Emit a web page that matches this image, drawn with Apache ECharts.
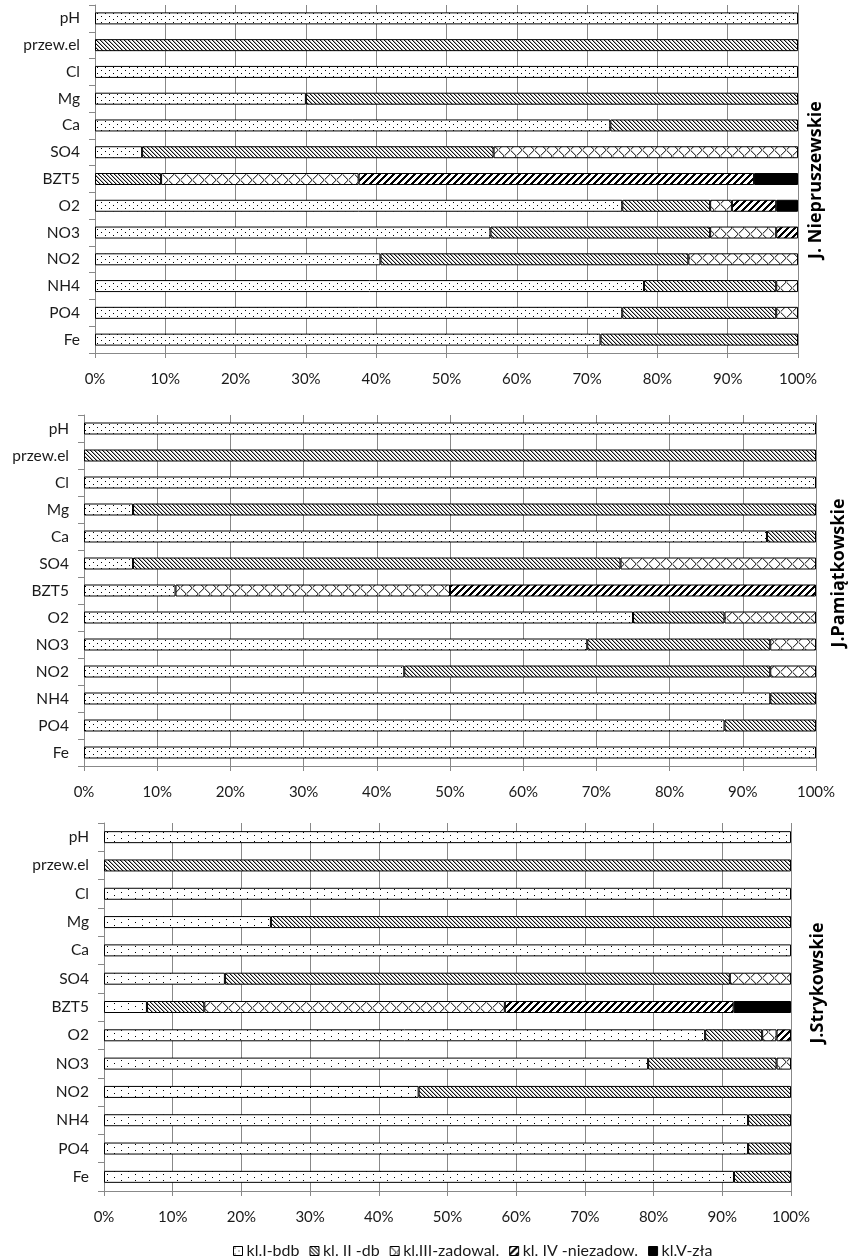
<!DOCTYPE html>
<html>
<head>
<meta charset="utf-8">
<script src="https://cdn.jsdelivr.net/npm/echarts@6/dist/echarts.min.js"></script>
<style>
    html, body { margin: 0; padding: 0; background: #fff; }
    #main { width: 848px; height: 1257px; }
</style>
</head>
<body>
<div id="main"></div>
<script>
// kategorie (od góry)
var categories = ['pH', 'przew.el', 'Cl', 'Mg', 'Ca', 'SO4', 'BZT5', 'O2', 'NO3', 'NO2', 'NH4', 'PO4', 'Fe'];
var classNames = ['kl.I-bdb', 'kl. II -db', 'kl.III-zadowal.', 'kl. IV -niezadow.', 'kl.V-zła'];

// J. Niepruszewskie
var niepKl1 = [100, 0, 100, 30, 73.3, 6.7, 0, 75, 56.25, 40.6, 78.1, 75, 71.9];
var niepKl2 = [0, 100, 0, 70, 26.7, 50, 9.4, 12.5, 31.25, 43.8, 18.8, 21.9, 28.1];
var niepKl3 = [0, 0, 0, 0, 0, 43.3, 28.1, 3.1, 9.4, 15.6, 3.1, 3.1, 0];
var niepKl4 = [0, 0, 0, 0, 0, 0, 56.25, 6.3, 3.1, 0, 0, 0, 0];
var niepKl5 = [0, 0, 0, 0, 0, 0, 6.25, 3.1, 0, 0, 0, 0, 0];

// J.Pamiątkowskie
var pamKl1 = [100, 0, 100, 6.7, 93.3, 6.7, 12.5, 75, 68.75, 43.75, 93.75, 87.5, 100];
var pamKl2 = [0, 100, 0, 93.3, 6.7, 66.6, 0, 12.5, 25, 50, 6.25, 12.5, 0];
var pamKl3 = [0, 0, 0, 0, 0, 26.7, 37.5, 12.5, 6.25, 6.25, 0, 0, 0];
var pamKl4 = [0, 0, 0, 0, 0, 0, 50, 0, 0, 0, 0, 0, 0];
var pamKl5 = [0, 0, 0, 0, 0, 0, 0, 0, 0, 0, 0, 0, 0];

// J.Strykowskie
var stryKl1 = [100, 0, 100, 24.3, 100, 17.6, 6.25, 87.5, 79.2, 45.8, 93.75, 93.75, 91.7];
var stryKl2 = [0, 100, 0, 75.7, 0, 73.5, 8.35, 8.3, 18.7, 54.2, 6.25, 6.25, 8.3];
var stryKl3 = [0, 0, 0, 0, 0, 8.9, 43.75, 2.1, 2.1, 0, 0, 0, 0];
var stryKl4 = [0, 0, 0, 0, 0, 0, 33.3, 2.1, 0, 0, 0, 0, 0];
var stryKl5 = [0, 0, 0, 0, 0, 0, 8.35, 0, 0, 0, 0, 0, 0];

var stationNames = ['J. Niepruszewskie', 'J.Pamiątkowskie', 'J.Strykowskie'];

// wzory wypełnienia (jak w Excelu)
function makePattern(w, h, draw) {
    var c = document.createElement('canvas');
    c.width = w;
    c.height = h;
    var ctx = c.getContext('2d');
    ctx.fillStyle = '#fff';
    ctx.fillRect(0, 0, w, h);
    draw(ctx, w, h);
    return {image: c, repeat: 'repeat'};
}

var dots = makePattern(8, 6, function (ctx) {
    ctx.fillStyle = '#000';
    ctx.fillRect(1, 1, 1, 1);
    ctx.fillRect(5, 4, 1, 1);
});
var dotsSparse = makePattern(14, 6, function (ctx) {
    ctx.fillStyle = '#000';
    ctx.fillRect(2, 1, 1, 1);
    ctx.fillRect(9, 4, 1, 1);
});
var hatch = makePattern(4, 4, function (ctx) {
    for (var i = 0; i < 4; i++) {
        ctx.fillStyle = '#111';
        ctx.fillRect(i, i, 1, 1);
        ctx.fillStyle = '#aaa';
        ctx.fillRect((i + 1) % 4, i, 1, 1);
    }
});
var cross = makePattern(12, 12, function (ctx) {
    for (var i = 0; i < 12; i++) {
        ctx.fillStyle = '#444';
        ctx.fillRect(i, i, 1, 1);
        ctx.fillRect(11 - i, i, 1, 1);
        ctx.fillStyle = '#bbb';
        ctx.fillRect((i + 1) % 12, i, 1, 1);
        ctx.fillRect((12 - i) % 12, i, 1, 1);
    }
});
var thick = makePattern(7, 7, function (ctx) {
    ctx.fillStyle = '#000';
    for (var i = 0; i < 7; i++) {
        for (var k = 0; k < 3; k++) {
            ctx.fillRect((6 - i + k) % 7, i, 1, 1);
        }
    }
});

var patternsA = [dots, hatch, cross, thick, '#000'];
var patternsB = [dotsSparse, hatch, cross, thick, '#000'];

var stations = [
    {data: [niepKl1, niepKl2, niepKl3, niepKl4, niepKl5], fills: patternsA},
    {data: [pamKl1, pamKl2, pamKl3, pamKl4, pamKl5], fills: patternsA},
    {data: [stryKl1, stryKl2, stryKl3, stryKl4, stryKl5], fills: patternsB}
];

// położenie trzech wykresów
var grids = [
    {left: 95, top: 5, width: 703, height: 348},
    {left: 84, top: 415, width: 732, height: 351},
    {left: 104, top: 823, width: 687, height: 368}
];
var titlePos = [[816, 180], [839, 573], [818, 983]];

var gray = '#888';
var font = 'Lato';

var xAxes = [], yAxes = [], series = [], graphics = [];

grids.forEach(function (g, gi) {
    g.outerBoundsMode = 'none';
    g.containLabel = false;

    xAxes.push({
        gridIndex: gi,
        type: 'value',
        min: 0,
        max: 100,
        interval: 10,
        axisLine: {show: true, lineStyle: {color: gray, width: 1}},
        axisTick: {show: true, length: 5, lineStyle: {color: gray}},
        splitLine: {show: true, lineStyle: {color: gray, width: 1}},
        axisLabel: {
            formatter: '{value}%',
            margin: 19,
            color: '#1a1a1a',
            fontFamily: font,
            fontSize: 15
        }
    });

    yAxes.push({
        gridIndex: gi,
        type: 'category',
        inverse: true,
        data: categories,
        axisLine: {show: true, lineStyle: {color: gray, width: 1}},
        axisTick: {show: true, length: 6, alignWithLabel: false, lineStyle: {color: gray}},
        splitLine: {show: false},
        axisLabel: {
            margin: 15,
            color: '#1a1a1a',
            fontFamily: font,
            fontSize: 15.5
        }
    });

    var st = stations[gi];
    st.data.forEach(function (vals, k) {
        series.push({
            name: classNames[k],
            type: 'bar',
            stack: 'st' + gi,
            xAxisIndex: gi,
            yAxisIndex: gi,
            barWidth: 12,
            data: vals.map(function (v) { return v === 0 ? '-' : v; }),
            itemStyle: {color: st.fills[k], borderColor: '#000', borderWidth: 1},
            emphasis: {disabled: true}
        });
    });

    graphics.push({
        type: 'text',
        x: titlePos[gi][0],
        y: titlePos[gi][1],
        rotation: Math.PI / 2,
        style: {
            text: stationNames[gi],
            fontFamily: 'Open Sans',
            fontWeight: 'bold',
            fontSize: 18,
            fill: '#000',
            textAlign: 'center',
            textVerticalAlign: 'middle'
        }
    });
});

var myChart = echarts.init(document.getElementById('main'), null, {renderer: 'canvas'});

var option = {
    backgroundColor: '#fff',
    animation: false,
    grid: grids,
    xAxis: xAxes,
    yAxis: yAxes,
    legend: {
        data: classNames,
        left: 228,
        top: 1238,
        icon: 'rect',
        itemWidth: 9,
        itemHeight: 9,
        itemGap: 10,
        textStyle: {color: '#1a1a1a', fontFamily: font, fontSize: 16, padding: [0, 0, 0, -1]},
        itemStyle: {borderColor: '#000', borderWidth: 1}
    },
    graphic: graphics,
    series: series
};

myChart.setOption(option);
</script>
</body>
</html>
